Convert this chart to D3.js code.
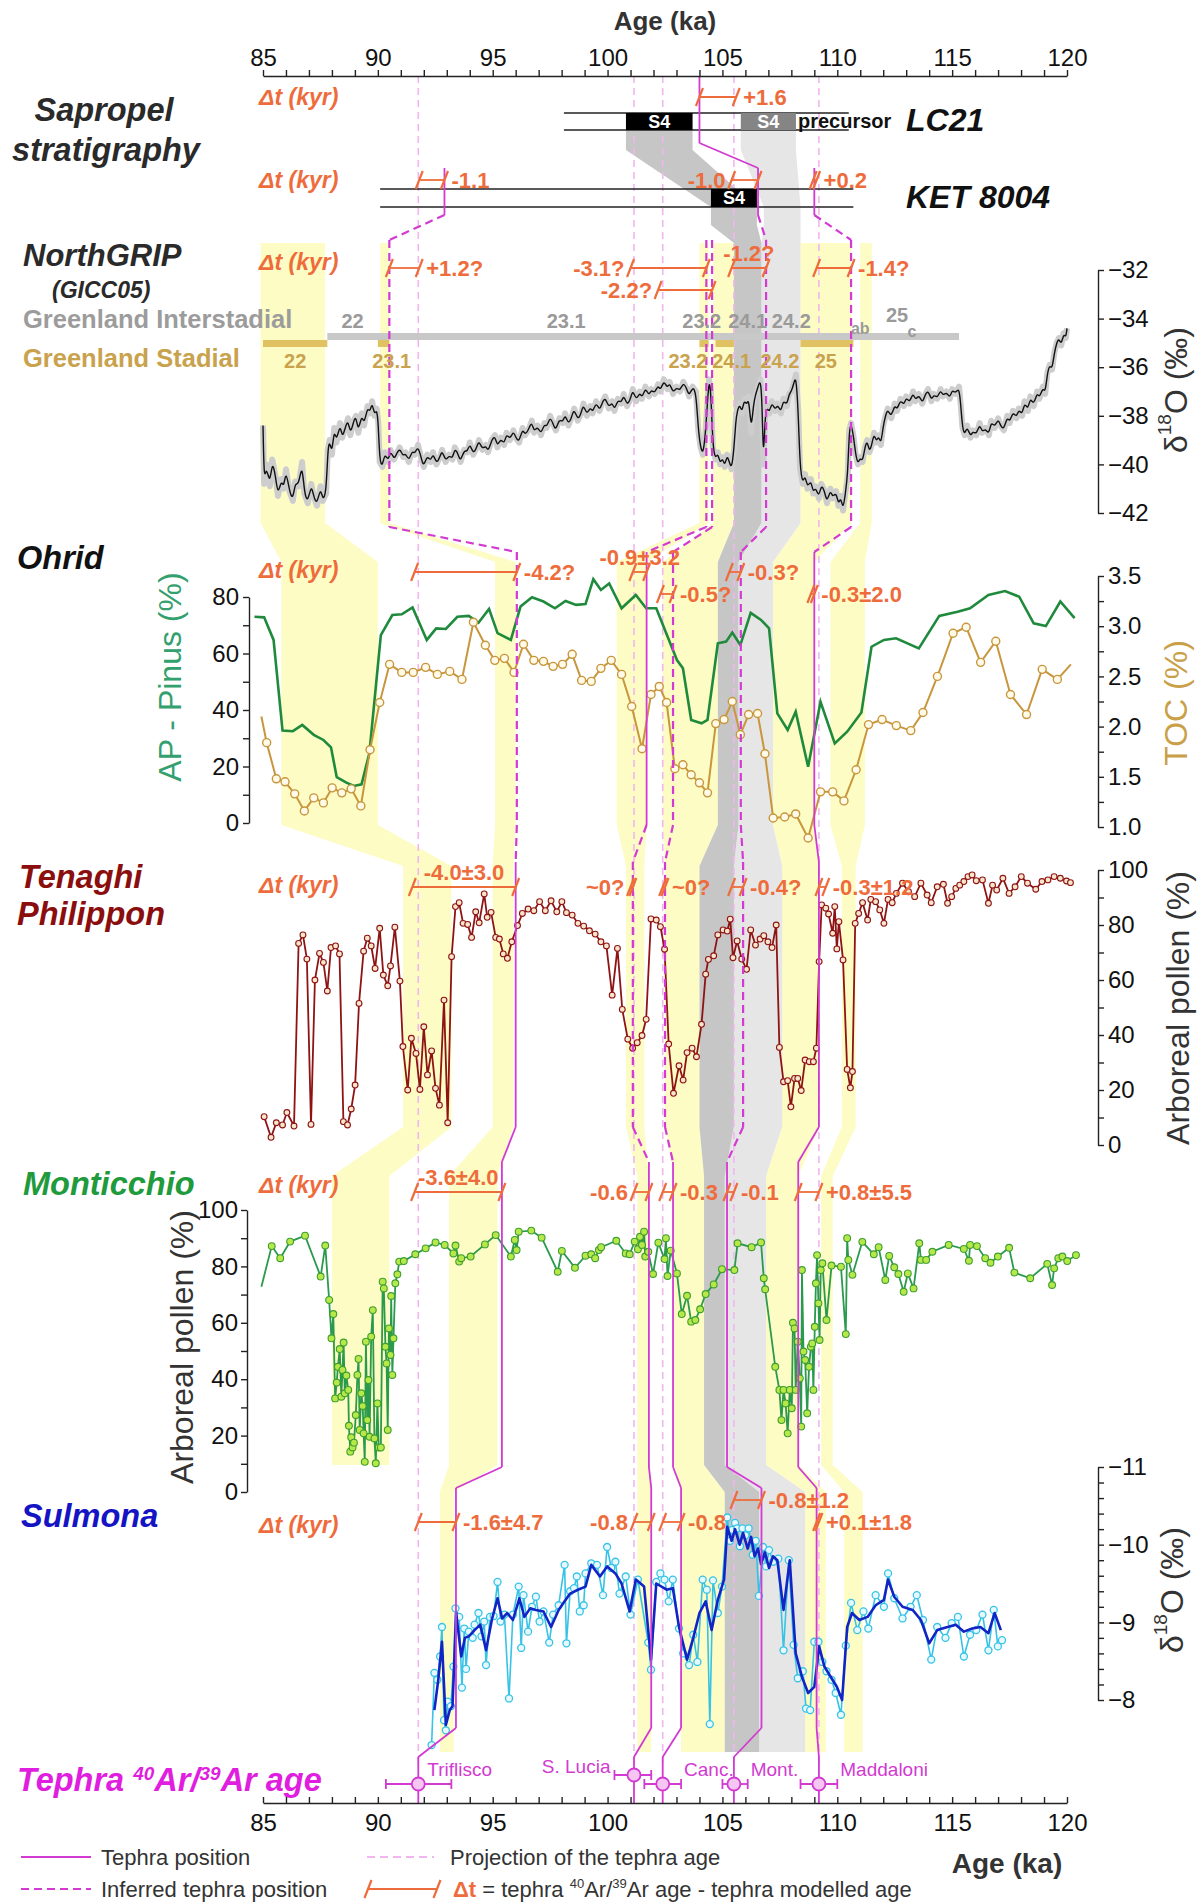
<!DOCTYPE html>
<html><head><meta charset="utf-8">
<script src="https://cdn.jsdelivr.net/npm/d3@7"></script>
<style>
body{margin:0;background:#fff;}
svg{display:block;}
</style></head><body>
<svg id="c" width="1203" height="1903"></svg>
<script>
// ---------------- DATA ----------------
const ageTicks = d3.range(85, 121, 1);

const ngrip = [[85.0,-38.4],[85.05,-40.8],[85.15,-40.0],[85.3,-40.9],[85.4,-39.8],[85.55,-40.5],[85.65,-41.3],[85.8,-40.6],[85.9,-41.0],[86.0,-40.2],[86.15,-41.1],[86.3,-41.5],[86.4,-40.7],[86.55,-40.9],[86.7,-39.9],[86.8,-41.2],[86.95,-41.6],[87.1,-40.8],[87.2,-41.3],[87.35,-41.7],[87.5,-40.9],[87.6,-41.5],[87.75,-41.2],[87.82,-39.4],[87.9,-39.0],[88.0,-39.6],[88.1,-38.5],[88.2,-39.1],[88.35,-38.3],[88.45,-38.9],[88.55,-38.6],[88.7,-38.1],[88.8,-38.8],[88.95,-38.2],[89.05,-38.0],[89.15,-38.7],[89.3,-37.9],[89.4,-38.4],[89.55,-37.6],[89.65,-37.9],[89.75,-37.4],[89.85,-38.0],[89.95,-37.7],[90.02,-38.3],[90.08,-39.9],[90.2,-40.1],[90.3,-39.5],[90.45,-39.9],[90.55,-39.4],[90.7,-39.8],[90.8,-39.6],[90.95,-39.3],[91.1,-39.7],[91.2,-39.5],[91.35,-39.9],[91.5,-39.4],[91.6,-39.6],[91.75,-39.2],[91.9,-39.8],[92.0,-40.1],[92.15,-39.6],[92.3,-39.9],[92.4,-39.5],[92.55,-40.0],[92.7,-39.7],[92.8,-39.4],[92.95,-39.9],[93.1,-39.6],[93.25,-39.8],[93.35,-39.3],[93.5,-39.6],[93.6,-39.9],[93.75,-39.4],[93.9,-39.5],[94.0,-39.1],[94.15,-39.6],[94.3,-39.3],[94.4,-39.0],[94.55,-39.4],[94.7,-39.2],[94.8,-39.5],[94.95,-39.0],[95.1,-38.8],[95.2,-39.3],[95.35,-38.9],[95.5,-39.2],[95.6,-38.7],[95.75,-39.0],[95.9,-38.6],[96.0,-38.9],[96.15,-39.1],[96.3,-38.5],[96.4,-38.8],[96.55,-38.6],[96.7,-38.2],[96.8,-38.7],[96.95,-38.4],[97.1,-38.8],[97.25,-38.3],[97.35,-38.5],[97.5,-38.0],[97.65,-38.4],[97.75,-38.6],[97.9,-38.1],[98.05,-38.3],[98.15,-37.9],[98.3,-38.4],[98.45,-38.0],[98.55,-37.7],[98.7,-38.2],[98.85,-37.9],[98.95,-37.5],[99.1,-38.0],[99.25,-37.6],[99.35,-37.9],[99.5,-37.4],[99.65,-37.8],[99.75,-37.5],[99.9,-37.2],[100.05,-37.7],[100.2,-37.4],[100.3,-37.8],[100.45,-37.3],[100.6,-37.5],[100.7,-37.1],[100.85,-37.6],[101.0,-37.3],[101.1,-36.9],[101.25,-37.4],[101.4,-37.0],[101.5,-37.3],[101.65,-36.8],[101.8,-37.2],[101.9,-36.9],[102.05,-37.1],[102.2,-36.7],[102.3,-37.0],[102.45,-36.5],[102.6,-36.9],[102.7,-36.6],[102.85,-37.1],[103.0,-36.8],[103.15,-37.0],[103.3,-36.6],[103.45,-36.9],[103.55,-37.2],[103.7,-36.8],[103.85,-37.0],[103.95,-38.6],[104.05,-39.3],[104.15,-39.6],[104.25,-38.9],[104.35,-37.4],[104.42,-36.5],[104.5,-37.0],[104.58,-39.3],[104.7,-39.8],[104.8,-39.5],[104.9,-40.0],[105.0,-39.7],[105.1,-40.1],[105.2,-39.6],[105.3,-39.9],[105.4,-40.2],[105.5,-39.4],[105.58,-38.2],[105.65,-37.8],[105.75,-37.5],[105.85,-37.9],[105.95,-37.3],[106.05,-37.6],[106.15,-37.2],[106.25,-38.7],[106.35,-37.5],[106.45,-37.1],[106.55,-36.8],[106.65,-36.5],[106.72,-37.2],[106.78,-40.0],[106.85,-38.2],[106.92,-37.6],[107.05,-37.9],[107.15,-37.4],[107.3,-37.8],[107.4,-37.5],[107.55,-37.9],[107.65,-37.3],[107.8,-37.6],[107.9,-37.1],[108.0,-37.0],[108.1,-36.7],[108.2,-36.3],[108.3,-37.8],[108.38,-40.2],[108.5,-40.8],[108.6,-40.4],[108.7,-41.0],[108.85,-40.6],[108.95,-41.2],[109.05,-40.9],[109.2,-41.4],[109.3,-40.8],[109.45,-41.1],[109.55,-41.6],[109.7,-41.0],[109.8,-41.4],[109.95,-41.1],[110.05,-41.7],[110.15,-41.3],[110.25,-41.9],[110.35,-41.2],[110.45,-40.5],[110.52,-38.6],[110.6,-38.3],[110.7,-38.8],[110.8,-39.6],[110.9,-40.0],[111.0,-39.7],[111.1,-39.9],[111.2,-39.3],[111.3,-39.0],[111.4,-39.5],[111.5,-39.2],[111.6,-38.7],[111.7,-39.1],[111.8,-38.8],[111.9,-39.2],[112.0,-38.4],[112.1,-38.0],[112.2,-37.7],[112.35,-38.1],[112.5,-37.5],[112.6,-37.8],[112.75,-37.3],[112.9,-37.6],[113.0,-37.2],[113.15,-37.5],[113.3,-37.0],[113.4,-37.4],[113.55,-37.1],[113.7,-37.5],[113.8,-37.2],[113.95,-36.9],[114.1,-37.4],[114.2,-37.1],[114.35,-37.3],[114.5,-36.9],[114.6,-37.2],[114.75,-37.0],[114.9,-37.3],[115.0,-36.9],[115.15,-37.1],[115.3,-36.8],[115.38,-37.6],[115.45,-38.5],[115.55,-38.8],[115.65,-38.4],[115.8,-38.9],[115.9,-38.6],[116.05,-38.8],[116.2,-38.3],[116.3,-38.7],[116.45,-38.5],[116.6,-38.8],[116.7,-38.2],[116.85,-38.5],[117.0,-38.1],[117.1,-38.4],[117.25,-38.6],[117.4,-38.0],[117.5,-38.3],[117.65,-37.8],[117.8,-38.1],[117.9,-37.7],[118.05,-38.0],[118.15,-37.4],[118.3,-37.8],[118.4,-37.2],[118.55,-37.6],[118.7,-37.0],[118.8,-37.3],[118.95,-36.8],[119.05,-37.1],[119.15,-36.2],[119.25,-35.9],[119.35,-36.1],[119.45,-35.4],[119.55,-35.0],[119.65,-34.8],[119.75,-35.1],[119.85,-34.6],[119.95,-34.8],[120.0,-34.4]];

const ohridAP = [[84.63,73.0],[85.05,72.8],[85.46,64.8],[85.85,32.7],[86.30,32.5],[86.71,34.7],[87.21,31.2],[87.63,29.4],[87.96,26.8],[88.21,16.2],[88.63,14.3],[88.96,13.1],[89.29,13.7],[89.63,24.7],[90.13,66.5],[90.63,73.6],[91.04,73.9],[91.51,76.3],[92.13,64.8],[92.54,68.9],[92.96,68.7],[93.46,73.0],[93.96,73.3],[94.38,70.9],[94.84,75.8],[95.21,67.2],[95.79,64.8],[96.21,76.6],[96.71,79.9],[97.21,78.4],[97.71,76.0],[98.17,78.6],[98.63,77.2],[99.04,77.5],[99.38,86.3],[99.71,82.5],[100.07,84.8],[100.61,76.0],[101.23,80.7],[101.68,76.0],[102.12,76.0],[103.02,57.7],[103.28,54.8],[103.64,36.5],[104.09,35.3],[104.35,36.5],[104.80,63.6],[105.16,64.2],[105.43,67.4],[105.78,63.0],[106.23,74.4],[106.68,71.9],[107.03,68.9],[107.39,38.8],[107.84,32.9],[108.19,39.4],[108.73,19.9],[109.27,42.9],[109.89,28.2],[110.43,32.3],[111.05,39.1],[111.49,62.4],[112.03,64.8],[112.56,65.4],[113.55,61.8],[114.44,73.3],[115.24,74.8],[115.78,76.0],[116.58,80.7],[117.30,82.1],[117.92,80.1],[118.55,70.7],[119.08,69.7],[119.71,78.4],[120.33,72.5]];

const ohridTOC = [[84.93,2.10],[85.16,1.84],[85.58,1.48],[85.96,1.45],[86.38,1.33],[86.80,1.16],[87.21,1.29],[87.63,1.24],[88.01,1.39],[88.43,1.34],[88.84,1.38],[89.26,1.21],[89.66,1.77],[90.08,2.24],[90.51,2.62],[91.04,2.54],[91.54,2.54],[92.08,2.59],[92.59,2.52],[93.13,2.55],[93.66,2.47],[94.16,3.04],[94.68,2.81],[95.09,2.66],[95.51,2.68],[95.93,2.54],[96.34,2.82],[96.79,2.66],[97.21,2.65],[97.63,2.60],[98.04,2.62],[98.46,2.72],[98.87,2.46],[99.29,2.45],[99.71,2.58],[100.16,2.66],[100.61,2.52],[101.05,2.20],[101.50,1.78],[101.89,2.32],[102.25,2.40],[102.57,2.24],[102.93,1.58],[103.28,1.62],[103.64,1.52],[104.00,1.44],[104.35,1.34],[104.71,2.03],[105.07,2.07],[105.43,2.25],[105.78,1.92],[106.14,2.12],[106.53,2.13],[106.85,1.73],[107.21,1.09],[107.71,1.10],[108.19,1.13],[108.73,0.89],[109.27,1.35],[109.80,1.35],[110.29,1.26],[110.82,1.57],[111.36,2.02],[111.95,2.07],[112.57,2.01],[113.20,1.96],[113.73,2.14],[114.36,2.50],[115.04,2.93],[115.61,2.99],[116.24,2.64],[116.90,2.85],[117.54,2.32],[118.24,2.12],[118.92,2.57],[119.58,2.47],[120.17,2.62]];

const tenaghiAP = [[85.05,10.3],[85.35,2.8],[85.58,8.1],[85.85,7.3],[86.04,11.8],[86.35,6.9],[86.55,73.3],[86.74,76.4],[86.91,67.6],[87.09,7.5],[87.26,60.0],[87.46,69.7],[87.63,66.4],[87.80,56.0],[87.96,71.8],[88.16,72.4],[88.33,69.5],[88.50,8.5],[88.68,7.3],[88.84,13.1],[89.01,21.8],[89.18,51.5],[89.38,70.5],[89.54,75.2],[89.71,72.4],[89.88,64.2],[90.08,78.8],[90.24,61.8],[90.43,57.9],[90.55,65.1],[90.74,79.2],[90.96,59.6],[91.09,35.8],[91.30,20.0],[91.46,38.8],[91.66,33.3],[91.83,20.2],[92.00,43.0],[92.16,25.5],[92.34,34.2],[92.51,20.6],[92.68,14.5],[92.88,52.7],[93.04,8.1],[93.21,68.5],[93.38,86.7],[93.54,88.1],[93.71,80.6],[93.91,80.2],[94.08,75.5],[94.26,84.8],[94.41,80.8],[94.63,91.3],[94.76,82.8],[94.93,84.6],[95.13,75.5],[95.29,74.9],[95.46,69.5],[95.64,67.9],[95.83,73.9],[96.08,79.8],[96.29,84.2],[96.54,85.8],[96.79,85.2],[97.04,88.5],[97.29,85.2],[97.54,88.8],[97.79,84.8],[98.01,88.5],[98.21,84.5],[98.46,83.6],[98.71,80.6],[98.96,79.6],[99.21,77.9],[99.46,76.7],[99.71,73.9],[99.95,72.4],[100.20,54.5],[100.43,71.5],[100.64,49.3],[100.88,38.5],[101.09,35.2],[101.29,37.2],[101.50,39.8],[101.68,45.7],[101.89,82.2],[102.12,81.8],[102.30,79.4],[102.48,71.2],[102.66,36.7],[102.87,18.8],[103.11,28.8],[103.29,23.6],[103.46,33.6],[103.68,35.2],[103.87,32.1],[104.09,43.9],[104.27,62.1],[104.39,67.5],[104.62,68.8],[104.80,76.4],[105.03,78.2],[105.21,77.8],[105.34,82.1],[105.46,68.1],[105.64,74.2],[105.84,67.6],[106.05,63.9],[106.23,78.2],[106.44,72.7],[106.64,74.9],[106.80,76.1],[106.98,73.9],[107.16,71.8],[107.34,80.0],[107.48,35.5],[107.66,23.0],[107.84,23.4],[107.98,13.9],[108.14,24.2],[108.28,24.2],[108.43,19.8],[108.60,30.9],[108.78,30.3],[108.96,30.3],[109.09,35.2],[109.21,66.7],[109.32,87.3],[109.50,86.1],[109.62,84.0],[109.80,77.0],[109.89,86.7],[109.98,71.3],[110.07,81.2],[110.25,67.3],[110.43,27.5],[110.57,20.8],[110.66,26.7],[110.78,80.6],[110.93,84.2],[111.10,88.1],[111.32,81.8],[111.46,89.3],[111.67,88.5],[111.85,85.5],[112.03,80.6],[112.21,89.3],[112.39,88.1],[112.57,91.5],[112.84,95.2],[113.10,92.1],[113.37,90.3],[113.64,95.2],[113.91,90.9],[114.09,88.1],[114.35,93.9],[114.62,94.8],[114.80,87.9],[114.98,90.3],[115.16,93.3],[115.33,94.5],[115.51,95.8],[115.69,97.6],[115.87,98.2],[116.05,96.1],[116.32,96.4],[116.58,87.9],[116.76,94.5],[116.94,92.7],[117.21,97.0],[117.48,91.5],[117.74,93.9],[118.01,97.6],[118.28,95.2],[118.64,93.0],[118.91,95.8],[119.17,96.4],[119.44,97.6],[119.71,97.0],[119.98,96.0],[120.15,95.4]];

const montiAP = [[84.93,72.8],[85.38,87.2],[85.75,82.9],[86.18,88.8],[86.83,90.9],[87.51,76.4],[87.71,87.4],[87.88,68.1],[87.98,54.5],[88.06,63.1],[88.14,33.2],[88.21,38.8],[88.26,44.4],[88.34,50.7],[88.41,33.8],[88.46,43.3],[88.51,53.0],[88.56,35.0],[88.63,41.3],[88.71,36.2],[88.74,23.5],[88.80,14.3],[88.84,19.4],[88.90,15.8],[88.96,17.5],[89.04,27.3],[89.11,41.5],[89.16,47.2],[89.21,22.0],[89.28,35.0],[89.34,30.5],[89.38,20.8],[89.43,10.7],[89.48,53.3],[89.54,25.5],[89.59,39.7],[89.64,19.6],[89.71,55.1],[89.78,64.5],[89.85,19.0],[89.91,10.2],[89.98,31.4],[90.04,15.8],[90.13,15.8],[90.21,74.6],[90.26,72.2],[90.33,51.5],[90.38,45.6],[90.43,22.0],[90.48,58.0],[90.55,48.6],[90.58,69.5],[90.63,41.5],[90.68,54.5],[90.76,74.0],[90.85,77.2],[90.93,81.7],[91.13,81.9],[91.63,84.3],[92.08,86.4],[92.51,88.5],[92.91,87.6],[93.29,84.6],[93.38,87.4],[93.54,81.7],[93.63,82.9],[94.04,83.5],[94.66,87.8],[95.13,91.1],[95.79,83.5],[95.96,89.4],[96.04,85.8],[96.13,92.3],[96.68,92.7],[97.13,90.2],[97.83,78.1],[98.01,85.5],[98.58,79.5],[99.04,83.8],[99.29,84.3],[99.46,82.9],[99.62,85.8],[99.72,86.8],[100.38,89.1],[100.79,84.6],[100.96,84.3],[101.18,88.8],[101.32,86.1],[101.41,90.5],[101.50,87.6],[101.59,92.3],[101.64,83.5],[101.77,85.2],[101.98,77.3],[102.21,88.4],[102.48,82.6],[102.54,90.0],[102.61,76.6],[102.75,85.6],[103.02,77.5],[103.23,63.1],[103.46,69.6],[103.64,60.4],[103.82,61.0],[104.03,64.8],[104.27,70.2],[104.62,73.6],[104.98,79.0],[105.52,78.7],[105.66,88.2],[106.27,86.8],[106.68,88.5],[106.80,75.8],[106.86,71.9],[107.30,44.4],[107.48,36.2],[107.57,25.5],[107.66,36.2],[107.75,31.4],[107.84,20.8],[107.93,36.2],[108.02,29.7],[108.07,60.0],[108.14,58.0],[108.19,36.2],[108.28,53.3],[108.37,40.3],[108.43,23.2],[108.46,78.7],[108.53,49.8],[108.60,46.8],[108.69,27.9],[108.77,44.4],[108.85,51.5],[108.91,52.7],[108.96,36.2],[109.02,58.6],[109.07,74.0],[109.12,84.0],[109.18,66.9],[109.23,53.9],[109.28,78.7],[109.35,81.1],[109.53,61.0],[109.75,80.3],[110.16,79.9],[110.37,56.0],[110.43,90.0],[110.48,82.3],[110.66,77.0],[111.09,88.7],[111.59,84.3],[111.80,86.8],[112.09,75.2],[112.26,83.7],[112.48,79.7],[112.66,77.3],[112.89,71.0],[113.07,77.5],[113.32,72.2],[113.57,88.2],[113.64,82.3],[113.87,82.3],[114.14,85.2],[114.85,87.6],[115.51,86.2],[115.73,82.0],[115.78,87.6],[116.08,87.2],[116.44,82.9],[116.67,81.3],[116.99,83.5],[117.48,86.6],[117.71,77.8],[118.40,75.8],[119.14,80.9],[119.35,73.4],[119.44,79.3],[119.62,82.9],[119.80,83.5],[120.01,81.9],[120.39,84.0]];

const sulmonaRaw = [[92.34,-7.42],[92.46,-8.35],[92.59,-8.26],[92.71,-8.56],[92.79,-8.94],[92.88,-7.74],[92.96,-7.61],[93.04,-7.98],[93.18,-7.92],[93.29,-8.43],[93.38,-9.18],[93.54,-9.07],[93.66,-8.16],[93.76,-8.92],[93.84,-8.40],[93.96,-8.88],[94.13,-8.80],[94.21,-8.97],[94.38,-9.12],[94.51,-8.82],[94.63,-9.01],[94.71,-8.45],[94.88,-9.07],[95.04,-9.08],[95.21,-9.52],[95.34,-9.01],[95.51,-9.10],[95.71,-8.02],[95.88,-9.10],[96.13,-9.46],[96.24,-8.67],[96.34,-9.35],[96.54,-8.88],[96.71,-9.20],[96.88,-9.33],[97.04,-9.01],[97.21,-9.14],[97.46,-8.74],[97.63,-9.10],[97.87,-9.22],[98.13,-9.74],[98.21,-8.73],[98.37,-9.40],[98.54,-9.44],[98.66,-9.59],[98.79,-9.14],[98.96,-9.22],[99.04,-9.63],[99.29,-9.76],[99.54,-9.74],[99.80,-9.35],[99.98,-9.97],[100.16,-9.70],[100.34,-9.78],[100.52,-9.37],[100.79,-9.59],[101.00,-9.10],[101.32,-9.55],[101.77,-8.74],[101.89,-8.39],[102.12,-9.52],[102.30,-9.63],[102.48,-9.55],[102.66,-9.27],[102.84,-9.55],[103.11,-8.92],[103.29,-8.60],[103.55,-8.45],[103.73,-8.84],[103.91,-8.49],[104.14,-9.55],[104.32,-9.42],[104.45,-7.69],[104.59,-9.54],[104.80,-9.12],[104.98,-9.46],[105.21,-10.35],[105.33,-10.05],[105.43,-10.19],[105.55,-10.28],[105.64,-10.21],[105.76,-9.98],[105.87,-10.21],[106.0,-10.12],[106.14,-10.21],[106.32,-9.87],[106.45,-10.05],[106.59,-9.34],[106.77,-9.97],[106.9,-9.72],[107.03,-9.93],[107.21,-9.78],[107.43,-9.82],[107.66,-8.64],[107.89,-9.80],[108.10,-8.71],[108.28,-8.28],[108.50,-8.37],[108.64,-7.89],[108.82,-7.87],[109.00,-8.75],[109.18,-8.75],[109.35,-8.49],[109.53,-8.37],[109.75,-8.26],[109.93,-8.09],[110.16,-7.81],[110.37,-8.70],[110.60,-9.25],[110.87,-8.90],[111.14,-9.14],[111.35,-8.92],[111.67,-9.35],[112.03,-9.20],[112.21,-9.63],[112.48,-9.31],[112.84,-9.05],[113.19,-9.20],[113.46,-9.35],[113.73,-9.03],[114.09,-8.52],[114.35,-8.94],[114.71,-8.80],[114.98,-8.99],[115.25,-9.07],[115.51,-8.56],[115.78,-8.84],[116.05,-8.90],[116.32,-9.10],[116.58,-8.64],[116.81,-9.16],[116.99,-8.69],[117.17,-8.77]];

const sulmonaSmooth = [[92.46,-7.87],[92.63,-8.26],[92.79,-8.75],[92.96,-7.68],[93.13,-7.87],[93.25,-7.92],[93.41,-9.12],[93.63,-8.56],[93.79,-8.80],[93.96,-8.82],[94.21,-8.90],[94.46,-8.97],[94.71,-8.64],[94.96,-9.03],[95.21,-9.31],[95.41,-9.05],[95.63,-9.12],[95.88,-9.03],[96.16,-9.31],[96.38,-9.07],[96.63,-9.18],[96.88,-9.16],[97.21,-9.14],[97.54,-8.94],[97.87,-9.16],[98.13,-9.27],[98.37,-9.37],[98.71,-9.42],[99.04,-9.46],[99.29,-9.74],[99.67,-9.59],[99.98,-9.72],[100.34,-9.63],[100.61,-9.50],[100.96,-9.14],[101.23,-9.55],[101.59,-9.46],[101.89,-8.52],[102.12,-9.50],[102.57,-9.42],[102.84,-9.44],[103.11,-8.94],[103.46,-8.52],[103.73,-8.80],[104.00,-9.12],[104.27,-9.27],[104.53,-8.90],[104.80,-9.29],[105.07,-9.55],[105.21,-10.23],[105.4,-10.05],[105.55,-10.2],[105.75,-10.0],[105.9,-10.15],[106.1,-9.95],[106.25,-10.1],[106.4,-9.85],[106.55,-9.95],[106.68,-9.75],[106.85,-9.9],[107.03,-9.7],[107.2,-9.85],[107.39,-9.8],[107.66,-9.16],[107.93,-9.80],[108.19,-8.60],[108.46,-8.30],[108.73,-8.09],[109.00,-8.17],[109.21,-8.69],[109.44,-8.43],[109.71,-8.30],[109.98,-8.17],[110.21,-8.00],[110.43,-8.94],[110.64,-9.12],[110.96,-9.03],[111.32,-9.07],[111.67,-9.22],[112.03,-9.29],[112.21,-9.55],[112.48,-9.33],[112.84,-9.20],[113.28,-9.16],[113.64,-9.03],[114.00,-8.73],[114.35,-8.90],[114.80,-8.94],[115.16,-8.97],[115.51,-8.88],[115.87,-8.92],[116.23,-8.94],[116.58,-8.86],[116.85,-9.12],[117.12,-8.90]];

// Greenland interstadial / stadial bars (ka)
const giBars = [[87.8,115.3]];
const gsBars = [[85.0,87.8],[90.0,90.5],[104.0,104.4],[104.7,105.5],[108.4,110.7]];
const giLabels = [[88.9,"22"],[98.2,"23.1"],[104.1,"23.2"],[106.1,"24.1"],[108.0,"24.2"]];
const gsLabels = [[86.4,"22"],[90.6,"23.1"],[103.5,"23.2"],[105.4,"24.1"],[107.5,"24.2"],[109.5,"25"]];

// Sapropel cores
const lc21Core = [98.1,110.5];
const ketCore = [90.1,110.7];
const lc21S4 = [100.8,103.7];
const lc21Precursor = [105.8,108.2];
const ketS4 = [104.5,106.5];

// correlation bands (ka per record)
const yellowBands = [
  {NGRIP:[84.9,87.7], Ohrid:[85.8,90.0], Tenaghi:[91.1,93.2], Monticchio:[88.0,90.5]},
  {NGRIP:[90.1,90.5], Ohrid:[95.1,96.0], Tenaghi:[95.0,95.9], Monticchio:[93.1,95.2], Sulmona:[92.7,93.3]},
  {NGRIP:[104.0,104.4], Ohrid:[100.4,101.7], Tenaghi:[100.8,101.6], Monticchio:[101.3,101.8], Sulmona:[101.3,101.9]},
  {NGRIP:[104.6,105.5], Ohrid:[102.4,104.8], Tenaghi:[102.5,104.0], Monticchio:[102.9,104.2], Sulmona:[103.2,105.1]},
  {NGRIP:[108.4,110.6], Ohrid:[107.2,109.0], Tenaghi:[107.6,109.2], Monticchio:[106.9,108.3], Sulmona:[108.6,109.5]},
  {NGRIP:[111.0,111.5], Ohrid:[109.7,111.2], Tenaghi:[110.2,110.8], Monticchio:[109.3,109.8], Sulmona:[110.3,111.1]}
];
const darkBand = {LC21:[100.8,103.7], KET:[104.5,106.5], NGRIP:[105.5,106.7], Ohrid:[104.8,105.7], Tenaghi:[104.0,105.5], Monticchio:[104.2,105.1], Sulmona:[105.1,106.6]};
const lightBand = {LC21:[105.8,108.2], KET:[106.8,108.4], NGRIP:[106.7,108.4], Ohrid:[105.7,107.2], Tenaghi:[105.5,107.6], Monticchio:[105.1,106.9], Sulmona:[106.6,108.6]};

// tephra: Ar/Ar age, error range, modelled position per record (s = solid, d = inferred)
const tephras = [
  {name:"Triflisco", ar:91.76, err:[90.35,93.2], path:[["KET",92.9,"s"],["NGRIP",90.5,"d"],["Ohrid",96.05,"d"],["Tenaghi",96.0,"s"],["Monticchio",95.4,"s"],["Sulmona",93.4,"s"]]},
  {name:"S. Lucia", ar:101.15, err:[100.3,101.9], path:[["NGRIP",104.3,"d"],["Ohrid",101.7,"s"],["Tenaghi",101.1,"d"],["Monticchio",101.8,"s"],["Sulmona",101.9,"s"]]},
  {name:"Canc.", ar:102.4, err:[101.6,103.2], path:[["NGRIP",104.55,"d"],["Ohrid",102.85,"d"],["Tenaghi",102.5,"d"],["Monticchio",102.85,"s"],["Sulmona",103.2,"s"]]},
  {name:"Mont.", ar:105.5, err:[105.0,106.1], path:[["LC21",104.0,"s"],["KET",106.55,"s"],["NGRIP",106.9,"d"],["Ohrid",105.8,"d"],["Tenaghi",105.9,"d"],["Monticchio",105.2,"s"],["Sulmona",106.7,"s"]]},
  {name:"Maddaloni", ar:109.2, err:[108.4,110.0], path:[["KET",109.0,"s"],["NGRIP",110.6,"d"],["Ohrid",109.0,"s"],["Tenaghi",109.2,"s"],["Monticchio",108.3,"s"],["Sulmona",109.1,"s"]]}
];

// delta-t markers: record, from, to, label, label side, row level
const deltaT = [
  ["LC21",104.0,105.6,"+1.6","r",0],
  ["KET",91.8,92.9,"-1.1","r",0],["KET",105.4,106.55,"-1.0","l",0],["KET",108.95,109.1,"+0.2","r",0],
  ["NGRIP",90.5,91.8,"+1.2?","r",0],["NGRIP",101.0,104.3,"-3.1?","l",0],["NGRIP",102.2,104.55,"-2.2?","l",1],["NGRIP",105.4,106.9,"-1.2?","a",0],["NGRIP",109.1,110.6,"-1.4?","r",0],
  ["Ohrid",91.6,96.05,"-4.2?","r",0],["Ohrid",101.1,101.7,"-0.9±3.2","a",0],["Ohrid",102.3,102.85,"-0.5?","r",1],["Ohrid",105.3,105.8,"-0.3?","r",0],["Ohrid",108.85,109.0,"-0.3±2.0","r",1],
  ["Tenaghi",91.5,96.0,"-4.0±3.0","a",0],["Tenaghi",101.0,101.1,"~0?","l",0],["Tenaghi",102.4,102.5,"~0?","r",0],["Tenaghi",105.4,105.9,"-0.4?","r",0],["Tenaghi",109.2,109.5,"-0.3±1.2","r",0],
  ["Monticchio",91.6,95.4,"-3.6±4.0","a",0],["Monticchio",101.15,101.8,"-0.6","l",0],["Monticchio",102.4,102.85,"-0.3","r",0],["Monticchio",105.2,105.5,"-0.1","r",0],["Monticchio",108.3,109.2,"+0.8±5.5","r",0],
  ["Sulmona",91.76,93.4,"-1.6±4.7","r",0],["Sulmona",101.15,101.9,"-0.8","l",0],["Sulmona",102.4,103.2,"-0.8","r",0],["Sulmona",105.5,106.7,"-0.8±1.2","r",-1],["Sulmona",109.1,109.2,"+0.1±1.8","r",0]
];

// ---------------- LAYOUT ----------------
const FONT = '"Liberation Sans", Arial, Helvetica, sans-serif';
const ORANGE = "#ee6c3c", MAG = "#d23ad2", PINK = "#f2b6ee";
const svg = d3.select("#c").attr("font-family", FONT);
const x = d3.scaleLinear().domain([85,120]).range([263,1067]);
const order = ["LC21","KET","NGRIP","Ohrid","Tenaghi","Monticchio","Sulmona"];
const BY = {LC21:[130,150], KET:[207,225], NGRIP:[243,523], Ohrid:[562,825], Tenaghi:[866,1127], Monticchio:[1176,1465], Sulmona:[1492,1752]};
const TY = {LC21:[76,143], KET:[168,215], NGRIP:[240,527], Ohrid:[552,825], Tenaghi:[862,1127], Monticchio:[1162,1467], Sulmona:[1488,1728]};
const DY = {LC21:97, KET:180, NGRIP:268, Ohrid:572, Tenaghi:887, Monticchio:1192, Sulmona:1522};
const TICKFS = 24;

const gBands = svg.append("g"), gProj = svg.append("g"), gCore = svg.append("g"),
      gData = svg.append("g"), gTeph = svg.append("g"), gAnno = svg.append("g");

function bandPath(band, ys) {
  const left = [], right = [];
  order.filter(k => band[k]).forEach(k => {
    const [y0,y1] = ys[k]; const [a0,a1] = band[k];
    left.push([x(a0),y0],[x(a0),y1]); right.push([x(a1),y0],[x(a1),y1]);
  });
  return "M" + left.concat(right.reverse()).map(p => p.join(",")).join("L") + "Z";
}
yellowBands.forEach(b => gBands.append("path").attr("d", bandPath(b, BY)).attr("fill", "#fcfcc4"));
gBands.append("path").attr("d", bandPath(lightBand, BY)).attr("fill", "#e6e6e6");
gBands.append("path").attr("d", bandPath(darkBand, BY)).attr("fill", "#c6c6c6");

// projection lines
tephras.forEach(t => gProj.append("line").attr("x1", x(t.ar)).attr("x2", x(t.ar)).attr("y1", 76).attr("y2", 1765)
  .attr("stroke", PINK).attr("stroke-width", 1.6).attr("stroke-dasharray", "7,5"));

// age axes
const topAx = svg.append("g").attr("transform", "translate(0,76)")
  .call(d3.axisTop(x).tickValues(ageTicks).tickFormat(d => d % 5 === 0 ? d : "").tickSizeInner(6).tickSizeOuter(0).tickPadding(4));
const botAx = svg.append("g").attr("transform", "translate(0,1803)")
  .call(d3.axisBottom(x).tickValues(ageTicks).tickFormat(d => d % 5 === 0 ? d : "").tickSizeInner(-6).tickSizeOuter(0).tickPadding(11));
function styleAxis(g, fs) {
  g.attr("font-family", FONT).attr("font-size", fs);
  g.selectAll(".domain, .tick line").attr("stroke", "#222").attr("stroke-width", 1.4);
  g.selectAll("text").attr("fill", "#111");
}
styleAxis(topAx, TICKFS); styleAxis(botAx, TICKFS);
svg.append("text").attr("x", 665).attr("y", 30).attr("text-anchor", "middle").attr("font-size", 26).attr("font-weight", "bold").attr("fill", "#333").text("Age (ka)");
svg.append("text").attr("x", 1007).attr("y", 1873).attr("text-anchor", "middle").attr("font-size", 28).attr("font-weight", "bold").attr("fill", "#333").text("Age (ka)");

// sapropel cores
[[lc21Core,113,130],[ketCore,189,207]].forEach(([c,y0,y1]) => {
  [y0, y1].forEach(yy => gCore.append("line").attr("x1", x(c[0])).attr("x2", x(c[1])).attr("y1", yy).attr("y2", yy).attr("stroke", "#222").attr("stroke-width", 1.6));
});
[[lc21S4,113,130,"#000"],[lc21Precursor,113,130,"#858585"],[ketS4,189,207,"#000"]].forEach(([s,y0,y1,c]) => {
  gCore.append("rect").attr("x", x(s[0])).attr("y", y0).attr("width", x(s[1]) - x(s[0])).attr("height", y1 - y0).attr("fill", c);
  gCore.append("text").attr("x", (x(s[0]) + x(s[1])) / 2).attr("y", (y0 + y1) / 2 + 6).attr("text-anchor", "middle")
    .attr("font-size", 18).attr("font-weight", "bold").attr("fill", "#fff").text("S4");
});
gCore.append("text").attr("x", x(lc21Precursor[1]) + 2).attr("y", 128).attr("font-size", 20).attr("font-weight", "bold").attr("fill", "#111").text("precursor");

// NGRIP
const yN = d3.scaleLinear().domain([-42,-32]).range([513,270]);
const lineN = d3.line().x(d => x(d[0])).y(d => yN(d[1]));
gData.append("path").attr("d", lineN(ngrip)).attr("fill", "none").attr("stroke", "#cdcdcd").attr("stroke-width", 6).attr("stroke-linejoin", "round");
gData.append("path").attr("d", lineN.curve(d3.curveBasis)(ngrip)).attr("fill", "none").attr("stroke", "#111").attr("stroke-width", 1.4);
const axN = svg.append("g").attr("transform", "translate(1098,0)").call(d3.axisRight(yN).tickValues(d3.range(-42,-31,2)).tickSizeInner(6).tickSizeOuter(0).tickPadding(4));
styleAxis(axN, TICKFS);
giBars.forEach(b => gCore.append("rect").attr("x", x(b[0])).attr("y", 333).attr("width", x(b[1]) - x(b[0])).attr("height", 7).attr("fill", "#c8c8c8"));
gsBars.forEach(b => gCore.append("rect").attr("x", x(b[0])).attr("y", 340).attr("width", x(b[1]) - x(b[0])).attr("height", 7).attr("fill", "#e0c262"));
giLabels.forEach(([a,t]) => gAnno.append("text").attr("x", x(a)).attr("y", 328).attr("text-anchor", "middle").attr("font-size", 20).attr("font-weight", "bold").attr("fill", "#9a9a9a").text(t));
gsLabels.forEach(([a,t]) => gAnno.append("text").attr("x", x(a)).attr("y", 368).attr("text-anchor", "middle").attr("font-size", 20).attr("font-weight", "bold").attr("fill", "#c9a24e").text(t));
gAnno.append("text").attr("x", x(111.0)).attr("y", 334).attr("text-anchor", "middle").attr("font-size", 16).attr("font-weight", "bold").attr("fill", "#9a9a9a").text("ab");
gAnno.append("text").attr("x", x(112.6)).attr("y", 322).attr("text-anchor", "middle").attr("font-size", 20).attr("font-weight", "bold").attr("fill", "#9a9a9a").text("25");
gAnno.append("text").attr("x", x(113.25)).attr("y", 337).attr("text-anchor", "middle").attr("font-size", 16).attr("font-weight", "bold").attr("fill", "#9a9a9a").text("c");

// Ohrid
const yOA = d3.scaleLinear().domain([0,80]).range([823,597]);
const yOT = d3.scaleLinear().domain([1.0,3.5]).range([827,576]);
gData.append("path").attr("d", d3.line().x(d => x(d[0])).y(d => yOA(d[1]))(ohridAP)).attr("fill", "none").attr("stroke", "#1f8a3c").attr("stroke-width", 2.6);
gData.append("path").attr("d", d3.line().x(d => x(d[0])).y(d => yOT(d[1]))(ohridTOC)).attr("fill", "none").attr("stroke", "#c8963c").attr("stroke-width", 2);
gData.selectAll(".toc").data(ohridTOC.slice(1, -1)).join("circle").attr("cx", d => x(d[0])).attr("cy", d => yOT(d[1])).attr("r", 4)
  .attr("fill", "#fffbe8").attr("stroke", "#c8963c").attr("stroke-width", 1.4);
const axOA = svg.append("g").attr("transform", "translate(249,0)").call(d3.axisLeft(yOA).tickValues(d3.range(0,81,10)).tickFormat(d => d % 20 === 0 ? d : "").tickSizeInner(6).tickSizeOuter(0).tickPadding(4));
styleAxis(axOA, TICKFS);
const axOT = svg.append("g").attr("transform", "translate(1098,0)").call(d3.axisRight(yOT).tickValues(d3.range(1.0,3.51,0.25)).tickFormat(d => Math.abs(d * 2 - Math.round(d * 2)) < 1e-6 ? d.toFixed(1) : "").tickSizeInner(6).tickSizeOuter(0).tickPadding(4));
styleAxis(axOT, TICKFS);

// Tenaghi
const yT = d3.scaleLinear().domain([0,100]).range([1145,870]);
gData.append("path").attr("d", d3.line().x(d => x(d[0])).y(d => yT(d[1]))(tenaghiAP)).attr("fill", "none").attr("stroke", "#8e1414").attr("stroke-width", 1.8);
gData.selectAll(".ten").data(tenaghiAP).join("circle").attr("cx", d => x(d[0])).attr("cy", d => yT(d[1])).attr("r", 2.9)
  .attr("fill", "#f8e6cc").attr("stroke", "#8e1414").attr("stroke-width", 1.1);
const axT = svg.append("g").attr("transform", "translate(1098,0)").call(d3.axisRight(yT).tickValues(d3.range(0,101,10)).tickFormat(d => d % 20 === 0 ? d : "").tickSizeInner(6).tickSizeOuter(0).tickPadding(4));
styleAxis(axT, TICKFS);

// Monticchio
const yM = d3.scaleLinear().domain([0,100]).range([1492,1210]);
gData.append("path").attr("d", d3.line().x(d => x(d[0])).y(d => yM(d[1]))(montiAP)).attr("fill", "none").attr("stroke", "#2a9a4c").attr("stroke-width", 1.8);
gData.selectAll(".mon").data(montiAP.slice(1)).join("circle").attr("cx", d => x(d[0])).attr("cy", d => yM(d[1])).attr("r", 3.4)
  .attr("fill", "#b6e84a").attr("stroke", "#3e9e2e").attr("stroke-width", 1.1);
const axM = svg.append("g").attr("transform", "translate(247,0)").call(d3.axisLeft(yM).tickValues(d3.range(0,101,10)).tickFormat(d => d % 20 === 0 ? d : "").tickSizeInner(6).tickSizeOuter(0).tickPadding(3));
styleAxis(axM, TICKFS);

// Sulmona
const yS = d3.scaleLinear().domain([-11,-8]).range([1467,1700]);
gData.append("path").attr("d", d3.line().x(d => x(d[0])).y(d => yS(d[1]))(sulmonaRaw)).attr("fill", "none").attr("stroke", "#36c3e6").attr("stroke-width", 1.6);
gData.selectAll(".sr").data(sulmonaRaw).join("circle").attr("cx", d => x(d[0])).attr("cy", d => yS(d[1])).attr("r", 3.5)
  .attr("fill", "#e6f9ff").attr("stroke", "#36c3e6").attr("stroke-width", 1.3);
gData.append("path").attr("d", d3.line().x(d => x(d[0])).y(d => yS(d[1]))(sulmonaSmooth)).attr("fill", "none").attr("stroke", "#1224c4").attr("stroke-width", 2.6).attr("stroke-linejoin", "round");
const axS = svg.append("g").attr("transform", "translate(1098,0)").call(d3.axisRight(yS).tickValues(d3.range(0,16).map(i => -11 + i * 0.2)).tickFormat(d => Math.abs(d - Math.round(d)) < 1e-6 ? d3.format("d")(Math.round(d)) : "").tickSizeInner(6).tickSizeOuter(0).tickPadding(4));
styleAxis(axS, TICKFS);

// axis titles
function vTitle(cx, cy, parts, color) {
  const t = svg.append("text").attr("transform", `translate(${cx},${cy}) rotate(-90)`).attr("text-anchor", "middle")
    .attr("dominant-baseline", "central").attr("font-size", 32).attr("fill", color);
  parts.forEach(p => { const s = t.append("tspan").text(p[0]); if (p[1] < 0) s.attr("font-size", 19).attr("dy", p[1]); else if (p[1]) s.attr("dy", p[1]); });
}
vTitle(1176, 390, [["δ"],["18",-12],["O (‰)",12]], "#333");
vTitle(170, 677, [["AP - Pinus (%)"]], "#33a06e");
vTitle(1176, 703, [["TOC (%)"]], "#c9a048");
vTitle(1178, 1008, [["Arboreal pollen (%)"]], "#333");
vTitle(182, 1347, [["Arboreal pollen (%)"]], "#333");
vTitle(1172, 1590, [["δ"],["18",-12],["O (‰)",12]], "#333");

// tephra lines
tephras.forEach(t => {
  const segs = [];
  t.path.forEach((p, i) => {
    const [k, a, s] = p;
    if (i > 0) { const [pk, pa, ps] = t.path[i - 1]; segs.push([x(pa), TY[pk][1], x(a), TY[k][0], ps === "d" || s === "d"]); }
    segs.push([x(a), TY[k][0], x(a), TY[k][1], s === "d"]);
  });
  const last = t.path[t.path.length - 1];
  segs.push([x(last[1]), TY[last[0]][1], x(t.ar), 1757, false]);
  segs.push([x(t.ar), 1757, x(t.ar), 1803, false]);
  segs.forEach(s => gTeph.append("line").attr("x1", s[0]).attr("y1", s[1]).attr("x2", s[2]).attr("y2", s[3])
    .attr("stroke", MAG).attr("stroke-width", s[4] ? 2.2 : 1.8).attr("stroke-dasharray", s[4] ? "8,5" : null));
  const cy = t.name === "S. Lucia" ? 1775 : 1784;
  gTeph.append("line").attr("x1", x(t.err[0])).attr("x2", x(t.err[1])).attr("y1", cy).attr("y2", cy).attr("stroke", MAG).attr("stroke-width", 1.8);
  t.err.forEach(e => gTeph.append("line").attr("x1", x(e)).attr("x2", x(e)).attr("y1", cy - 5).attr("y2", cy + 5).attr("stroke", MAG).attr("stroke-width", 1.8));
  gTeph.append("circle").attr("cx", x(t.ar)).attr("cy", cy).attr("r", 6.5).attr("fill", "#f6c6f2").attr("stroke", MAG).attr("stroke-width", 1.8);
  const lt = gTeph.append("text").attr("y", cy - 2).attr("font-size", 19).attr("fill", MAG).text(t.name);
  if (t.name === "S. Lucia") lt.attr("x", x(t.err[0]) - 4).attr("text-anchor", "end");
  else if (t.name === "Triflisco") lt.attr("x", x(t.ar) + 9).attr("y", cy - 8);
  else lt.attr("x", x(t.err[1]) + 3).attr("y", cy - 8);
});

// delta-t markers
function dtMark(g, x0, x1, y) {
  g.append("line").attr("x1", x0).attr("x2", x1).attr("y1", y).attr("y2", y).attr("stroke", ORANGE).attr("stroke-width", 1.8);
  [x0, x1].forEach(xx => g.append("line").attr("x1", xx - 3.5).attr("y1", y + 9).attr("x2", xx + 3.5).attr("y2", y - 9).attr("stroke", ORANGE).attr("stroke-width", 2.2));
}
deltaT.forEach(([rec, a0, a1, lab, side, lev]) => {
  const y = DY[rec] + lev * 22;
  dtMark(gAnno, x(a0), x(a1), y);
  const t = gAnno.append("text").attr("font-size", 22).attr("font-weight", "bold").attr("fill", ORANGE).text(lab);
  if (side === "r") t.attr("x", x(a1) + 7).attr("y", y + 8);
  else if (side === "l") t.attr("x", x(a0) - 6).attr("y", y + 8).attr("text-anchor", "end");
  else t.attr("x", (x(a0) + x(a1)) / 2).attr("y", y - 7).attr("text-anchor", "middle");
});
[105, 188, 270, 578, 893, 1193, 1533].forEach(yb => gAnno.append("text").attr("x", 259).attr("y", yb).attr("font-size", 23)
  .attr("font-weight", "bold").attr("font-style", "italic").attr("fill", ORANGE).text("Δt (kyr)"));

// record titles
function title(txt, xx, yy, color, opt = {}) {
  return gAnno.append("text").attr("x", xx).attr("y", yy).attr("font-size", opt.fs || 32.5).attr("font-weight", "bold")
    .attr("font-style", opt.plain ? null : "italic").attr("fill", color).attr("text-anchor", opt.anchor || "start").text(txt);
}
title("Sapropel", 104, 121, "#2a2a2a", {anchor: "middle"});
title("stratigraphy", 106, 161, "#2a2a2a", {anchor: "middle"});
title("LC21", 906, 131, "#111", {fs: 32});
title("KET 8004", 906, 208, "#111", {fs: 32});
title("NorthGRIP", 23, 266, "#2a2a2a", {fs: 31});
title("(GICC05)", 52, 298, "#2a2a2a", {fs: 23});
title("Greenland Interstadial", 23, 328, "#9c9c9c", {fs: 25.5, plain: true});
title("Greenland Stadial", 23, 367, "#c9a24e", {fs: 25.5, plain: true});
title("Ohrid", 17, 569, "#111");
title("Tenaghi", 19, 888, "#8a0e0e");
title("Philippon", 17, 925, "#8a0e0e");
title("Monticchio", 23, 1195, "#1f9a3c");
title("Sulmona", 21, 1527, "#1414c4");
const tt = title("", 17, 1791, "#e01ee0");
[["Tephra "],["40",-11],["Ar/",11],["39",-11],["Ar age",11]].forEach(p => { const s = tt.append("tspan").text(p[0]); if (p[1] < 0) s.attr("font-size", 19).attr("dy", p[1]); else if (p[1]) s.attr("dy", p[1]); });

// legend
const lg = svg.append("g").attr("font-size", 22).attr("fill", "#333");
lg.append("line").attr("x1", 21).attr("x2", 91).attr("y1", 1857).attr("y2", 1857).attr("stroke", MAG).attr("stroke-width", 1.8);
lg.append("text").attr("x", 101).attr("y", 1865).text("Tephra position");
lg.append("line").attr("x1", 21).attr("x2", 91).attr("y1", 1889).attr("y2", 1889).attr("stroke", MAG).attr("stroke-width", 2).attr("stroke-dasharray", "8,5");
lg.append("text").attr("x", 101).attr("y", 1897).text("Inferred tephra position");
lg.append("line").attr("x1", 367).attr("x2", 434).attr("y1", 1857).attr("y2", 1857).attr("stroke", PINK).attr("stroke-width", 1.8).attr("stroke-dasharray", "8,5");
lg.append("text").attr("x", 450).attr("y", 1865).text("Projection of the tephra age");
dtMark(lg, 368, 437, 1889);
const lt2 = lg.append("text").attr("x", 453).attr("y", 1897);
lt2.append("tspan").attr("font-weight", "bold").attr("fill", ORANGE).text("Δt");
lt2.append("tspan").text(" = tephra ");
lt2.append("tspan").attr("font-size", 13).attr("dy", -9).text("40");
lt2.append("tspan").attr("dy", 9).text("Ar/");
lt2.append("tspan").attr("font-size", 13).attr("dy", -9).text("39");
lt2.append("tspan").attr("dy", 9).text("Ar age - tephra modelled age");
</script>
</body></html>
